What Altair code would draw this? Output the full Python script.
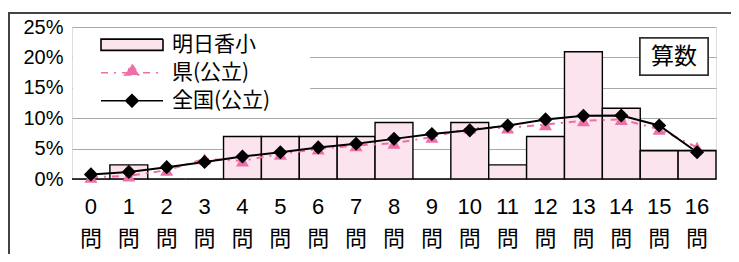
import altair as alt
import pandas as pd

# ---- data ----
questions = [str(i) for i in range(17)]
asuka = [0, 2.33, 0, 0, 6.98, 6.98, 6.98, 6.98, 9.30, 0, 9.30, 2.33, 6.98, 20.93, 11.63, 4.65, 4.65]
ken = [0.3, 0.5, 1.45, 3.3, 3.0, 4.1, 4.95, 5.5, 5.9, 6.9, 8.4, 8.4, 8.95, 9.6, 9.8, 8.2, 5.2]
zenkoku = [0.75, 1.17, 1.95, 2.8, 3.7, 4.4, 5.2, 5.8, 6.6, 7.4, 8.0, 8.8, 9.8, 10.4, 10.45, 8.8, 4.4]
series_names = ["明日香小", "県(公立)", "全国(公立)"]
y_ticks = [0, 5, 10, 15, 20, 25]
subject = "算数"

PINK = "#ee6fa8"
BARFILL = "#fce4ef"

bars_df = pd.DataFrame({"q": questions, "v": asuka, "s": series_names[0]})
ken_df = pd.DataFrame({"q": questions, "v": ken})
zen_df = pd.DataFrame({"q": questions, "v": zenkoku})

NUMFONT = "Liberation Sans Narrow, Liberation Sans, Arial, sans-serif"
CJK = "Noto Sans CJK JP"

x_enc = alt.X("q:N", sort=questions,
              scale=alt.Scale(paddingInner=0, paddingOuter=0),
              axis=alt.Axis(title=None, labelAngle=0, ticks=False, domain=False,
                            labelExpr="[datum.label, '問']",
                            labelFont=NUMFONT + ", " + CJK, labelFontSize=22,
                            labelLineHeight=32, labelPadding=34, labelColor="black",
                            labelBaseline="alphabetic", labelOverlap=False))
y_enc = alt.Y("v:Q", scale=alt.Scale(domain=[0, 25], nice=False),
              axis=alt.Axis(title=None, values=y_ticks, ticks=False, domain=False,
                            labelExpr="datum.value + '%'", labelFont=NUMFONT,
                            labelFontSize=20, labelColor="black", labelPadding=9,
                            labelOverlap=False,
                            grid=True, gridColor="#aaaaaa", gridWidth=1))


def make_legend():
    return alt.Legend(
        title=None, orient="none", legendX=28, legendY=4, direction="vertical",
        symbolSize=3844, clipHeight=27.5, rowPadding=0, padding=0, symbolOffset=0,
        symbolStrokeWidth=1.6, symbolOpacity=1,
        labelOffset=8, labelFont=CJK, labelFontSize=21, labelColor="black", labelLimit=400)


sdomain = series_names
bars = alt.Chart(bars_df).mark_bar(strokeWidth=1.4, opacity=1).encode(
    x=x_enc, y=y_enc,
    fill=alt.Fill("s:N", scale=alt.Scale(domain=sdomain, range=[BARFILL, PINK, "black"]),
                  legend=make_legend()),
    stroke=alt.Stroke("s:N", scale=alt.Scale(domain=sdomain, range=["black", PINK, "black"]),
                      legend=make_legend()),
    strokeDash=alt.StrokeDash("s:N", scale=alt.Scale(domain=sdomain,
                                                     range=[[1, 0], [7, 6, 2, 6], [1, 0]]),
                              legend=make_legend()),
)

# invisible layer that only provides legend symbol shapes
legend_shapes = alt.Chart(bars_df).transform_filter("false").mark_point(filled=True).encode(
    x=x_enc, y=y_enc,
    shape=alt.Shape("s:N", scale=alt.Scale(domain=sdomain, range=[
        "M-1,-0.18H1V0.18H-1Z",
        "M-1,0H1M0,-0.27L0.24,0.07L-0.24,0.07Z",
        "M-1,0H1M0,-0.2L0.2,0L0,0.2L-0.2,0Z"]), legend=make_legend()),
)

# white area behind legend (covers gridlines)
legend_bg = alt.Chart(bars_df).mark_rect(color="white").encode(
    x=alt.value(1), x2=alt.value(238), y=alt.value(1), y2=alt.value(86))

ken_line = alt.Chart(ken_df).mark_line(color=PINK, strokeWidth=2, strokeDash=[7, 6, 2, 6]).encode(
    x=x_enc, y=y_enc)
ken_pts = alt.Chart(ken_df).mark_point(shape="triangle-up", filled=True, color=PINK,
                                       size=170, opacity=1).encode(
    x=x_enc, y=y_enc)
zen_line = alt.Chart(zen_df).mark_line(color="black", strokeWidth=2).encode(
    x=x_enc, y=y_enc)
zen_pts = alt.Chart(zen_df).mark_point(shape="diamond", filled=True, color="black",
                                       size=200, opacity=1).encode(
    x=x_enc, y=y_enc)

subj_box = alt.Chart(bars_df).mark_rect(fill="white", stroke="#333333", strokeWidth=1.5).encode(
    x=alt.value(568), x2=alt.value(636), y=alt.value(11), y2=alt.value(48))
subj_text = alt.Chart(pd.DataFrame({"t": [subject]})).mark_text(
    font=CJK, fontSize=23, color="black", align="center", baseline="middle").encode(
    x=alt.value(602), y=alt.value(30), text="t:N")

frame_top = alt.Chart(bars_df).mark_rule(color="#444444", strokeWidth=1.3).encode(
    x=alt.value(-63.3), x2=alt.value(660), y=alt.value(-14))
frame_left = alt.Chart(bars_df).mark_rule(color="#444444", strokeWidth=1.3).encode(
    x=alt.value(-63.3), y=alt.value(-14), y2=alt.value(228))

chart = alt.layer(
    legend_bg, bars, legend_shapes, ken_line, zen_line, ken_pts, zen_pts, subj_box, subj_text,
    frame_top, frame_left
).properties(
    width=644, height=152,
    padding={"left": 64, "top": 19, "right": 15, "bottom": 75},
    autosize=alt.AutoSizeParams(type="none"),
).configure_view(stroke="black", strokeWidth=1.5).configure(background="white")

chart.save("out.html", embed_options={"renderer": "svg", "actions": False})
